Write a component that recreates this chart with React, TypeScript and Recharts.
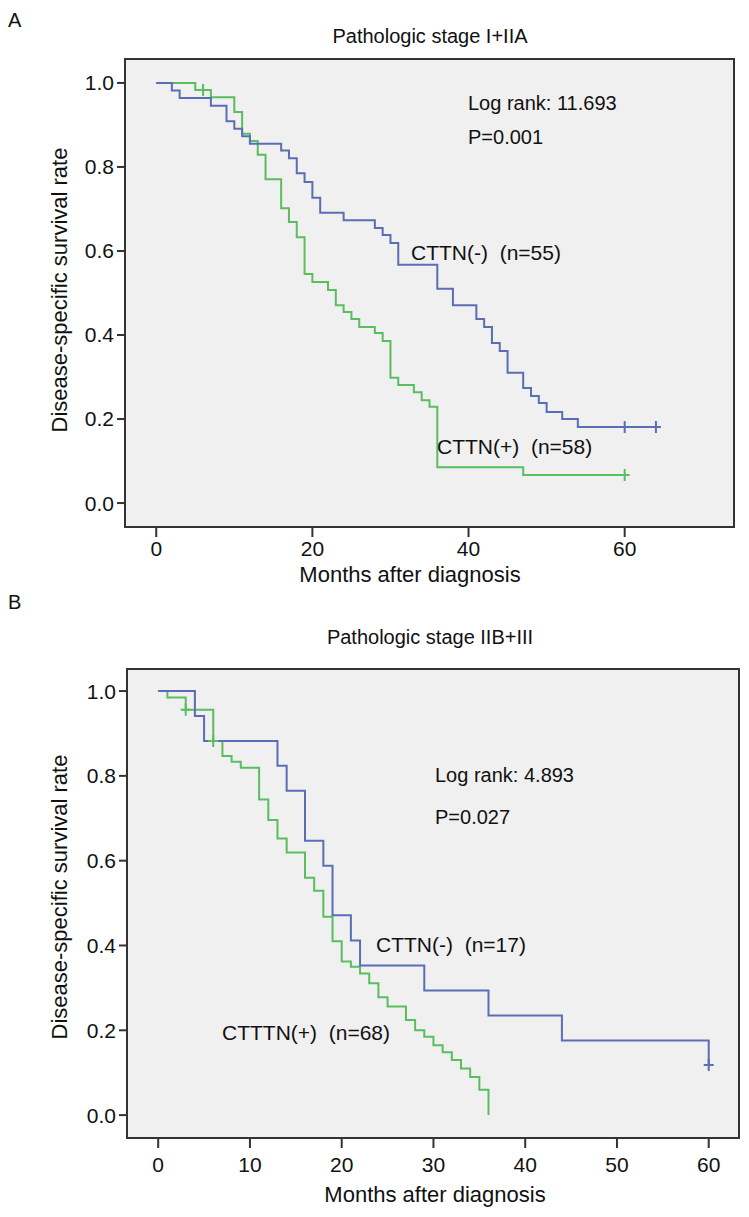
import React from 'react'
import { ComposedChart, Line, Scatter, XAxis, YAxis, CartesianGrid, ReferenceArea } from 'recharts'

// Panel A: pathologic stage I+IIA
const aNegMonths = [0, 2, 3, 7, 9, 10, 11, 12, 16, 17, 18, 19, 20, 21, 24, 28, 29, 30, 31, 36, 38, 41, 42, 43, 44, 45, 47, 48, 49, 50, 52, 54, 64]
const aNegSurv = [1, 0.982, 0.964, 0.946, 0.909, 0.891, 0.873, 0.855, 0.839, 0.821, 0.785, 0.764, 0.727, 0.691, 0.673, 0.655, 0.638, 0.619, 0.567, 0.51, 0.471, 0.438, 0.419, 0.381, 0.362, 0.31, 0.274, 0.255, 0.238, 0.217, 0.2, 0.181, 0.181]
const aPosMonths = [0, 5, 7, 10, 11, 12, 13, 14, 16, 17, 18, 19, 20, 22, 23, 24, 25, 26, 28, 29, 30, 31, 33, 34, 35, 36, 47, 60]
const aPosSurv = [1, 0.983, 0.966, 0.931, 0.879, 0.862, 0.829, 0.771, 0.702, 0.669, 0.633, 0.545, 0.526, 0.507, 0.471, 0.455, 0.438, 0.419, 0.405, 0.386, 0.298, 0.281, 0.264, 0.245, 0.229, 0.085, 0.067, 0.067]
const aNegCensorMonths = [60, 64]
const aNegCensorSurv = [0.181, 0.181]
const aPosCensorMonths = [6, 60]
const aPosCensorSurv = [0.983, 0.067]
const aTicks = [0, 20, 40, 60]

// Panel B: pathologic stage IIB+III
const bNegMonths = [0, 4, 5, 13, 14, 16, 18, 19, 21, 22, 29, 36, 44, 60]
const bNegSurv = [1, 0.941, 0.882, 0.824, 0.765, 0.647, 0.588, 0.471, 0.412, 0.353, 0.294, 0.235, 0.176, 0.118]
const bPosMonths = [0, 1, 3, 6, 7, 8, 9, 11, 12, 13, 14, 16, 17, 18, 19, 20, 21, 22, 23, 24, 25, 27, 28, 29, 30, 31, 32, 33, 34, 35, 36]
const bPosSurv = [1, 0.985, 0.956, 0.882, 0.847, 0.833, 0.819, 0.744, 0.696, 0.652, 0.619, 0.56, 0.529, 0.468, 0.41, 0.362, 0.35, 0.334, 0.311, 0.278, 0.256, 0.224, 0.2, 0.185, 0.165, 0.148, 0.13, 0.11, 0.09, 0.06, 0]
const bNegCensorMonths = [60]
const bNegCensorSurv = [0.118]
const bPosCensorMonths = [3, 6]
const bPosCensorSurv = [0.956, 0.882]
const bTicks = [0, 10, 20, 30, 40, 50, 60]

const yTicks = [0, 0.2, 0.4, 0.6, 0.8, 1.0]

const BLUE = '#5a6db5'
const GREEN = '#5abd5e'
const FONT = 'Arial, "Liberation Sans", sans-serif'

const pts = (t: number[], s: number[]) => t.map((m, i) => ({ t: m, s: s[i] }))

const plus = (color: string) => (props: any) => {
  const { cx, cy } = props
  return <path d={`M${cx - 5},${cy}h10M${cx},${cy - 6}v12`} stroke={color} strokeWidth={2} fill="none" />
}

const Txt = ({ x, y, size = 20, center = false, rotate = false, children }: any) => (
  <div
    style={{
      position: 'absolute',
      left: x,
      top: y,
      fontSize: size,
      lineHeight: 1,
      whiteSpace: 'nowrap',
      color: '#111',
      transform: `translate(${center || rotate ? '-50%' : '0'}, -50%)${rotate ? ' rotate(-90deg)' : ''}`,
    }}
  >
    {children}
  </div>
)

interface PanelProps {
  top: number
  height: number
  margin: { top: number; right: number; bottom: number; left: number }
  xDomain: [number, number]
  yDomain: [number, number]
  xTicks: number[]
  xTickMargin: number
  neg: { t: number; s: number }[]
  pos: { t: number; s: number }[]
  negCensor: { t: number; s: number }[]
  posCensor: { t: number; s: number }[]
}

function Panel(p: PanelProps) {
  const tickStyle = { fontSize: 21, fill: '#111', fontFamily: FONT }
  return (
    <div style={{ position: 'absolute', left: 0, top: p.top }}>
      <ComposedChart width={749} height={p.height} margin={p.margin}>
        <CartesianGrid fill="#f0f0f0" horizontal={false} vertical={false} />
        <XAxis
          type="number"
          dataKey="t"
          domain={p.xDomain}
          ticks={p.xTicks}
          allowDataOverflow
          axisLine={false}
          tickSize={10}
          tickMargin={p.xTickMargin}
          tickLine={{ stroke: '#333', strokeWidth: 2 }}
          tick={tickStyle}
          height={60}
        />
        <YAxis
          type="number"
          dataKey="s"
          domain={p.yDomain}
          ticks={yTicks}
          allowDataOverflow
          axisLine={false}
          tickSize={8}
          tickMargin={3}
          tickLine={{ stroke: '#333', strokeWidth: 2 }}
          tick={tickStyle}
          tickFormatter={(v: number) => v.toFixed(1)}
          width={60}
        />
        <ReferenceArea
          x1={p.xDomain[0]}
          x2={p.xDomain[1]}
          y1={p.yDomain[0]}
          y2={p.yDomain[1]}
          fill="none"
          stroke="#333"
          strokeWidth={2}
          ifOverflow="visible"
        />
        <Line data={p.pos} dataKey="s" type="stepAfter" stroke={GREEN} strokeWidth={2} dot={false} isAnimationActive={false} />
        <Line data={p.neg} dataKey="s" type="stepAfter" stroke={BLUE} strokeWidth={2} dot={false} isAnimationActive={false} />
        <Scatter data={p.posCensor} dataKey="s" shape={plus(GREEN)} isAnimationActive={false} />
        <Scatter data={p.negCensor} dataKey="s" shape={plus(BLUE)} isAnimationActive={false} />
      </ComposedChart>
    </div>
  )
}

export default function App() {
  return (
    <div style={{ position: 'absolute', left: 0, top: 0, width: 749, height: 1217, background: '#fff', fontFamily: FONT }}>
      <Panel
        top={0}
        height={600}
        margin={{ top: 59, right: 15, bottom: 13, left: 65 }}
        xDomain={[-4, 74]}
        yDomain={[-0.057, 1.057]}
        xTicks={aTicks}
        xTickMargin={4}
        neg={pts(aNegMonths, aNegSurv)}
        pos={pts(aPosMonths, aPosSurv)}
        negCensor={pts(aNegCensorMonths, aNegCensorSurv)}
        posCensor={pts(aPosCensorMonths, aPosCensorSurv)}
      />
      <Panel
        top={590}
        height={627}
        margin={{ top: 79, right: 10, bottom: 19, left: 67 }}
        xDomain={[-3.4, 63.3]}
        yDomain={[-0.054, 1.052]}
        xTicks={bTicks}
        xTickMargin={9}
        neg={pts(bNegMonths, bNegSurv)}
        pos={pts(bPosMonths, bPosSurv)}
        negCensor={pts(bNegCensorMonths, bNegCensorSurv)}
        posCensor={pts(bPosCensorMonths, bPosCensorSurv)}
      />

      <Txt x={8} y={20} size={20}>A</Txt>
      <Txt x={430} y={36} size={20} center>Pathologic stage I+IIA</Txt>
      <Txt x={60} y={290} size={22} rotate>Disease-specific survival rate</Txt>
      <Txt x={410} y={575} size={22} center>Months after diagnosis</Txt>
      <Txt x={468} y={103} size={20}>Log rank: 11.693</Txt>
      <Txt x={468} y={137} size={20}>P=0.001</Txt>
      <Txt x={411} y={252} size={21}>CTTN(-)&nbsp;&nbsp;(n=55)</Txt>
      <Txt x={437} y={446} size={21}>CTTN(+)&nbsp;&nbsp;(n=58)</Txt>

      <Txt x={8} y={602} size={20}>B</Txt>
      <Txt x={430} y={637} size={20} center>Pathologic stage IIB+III</Txt>
      <Txt x={60} y={897} size={22} rotate>Disease-specific survival rate</Txt>
      <Txt x={435} y={1195} size={22} center>Months after diagnosis</Txt>
      <Txt x={435} y={775} size={20}>Log rank: 4.893</Txt>
      <Txt x={435} y={817} size={20}>P=0.027</Txt>
      <Txt x={376} y={944} size={21}>CTTN(-)&nbsp;&nbsp;(n=17)</Txt>
      <Txt x={222} y={1032} size={21}>CTTTN(+)&nbsp;&nbsp;(n=68)</Txt>
    </div>
  )
}
